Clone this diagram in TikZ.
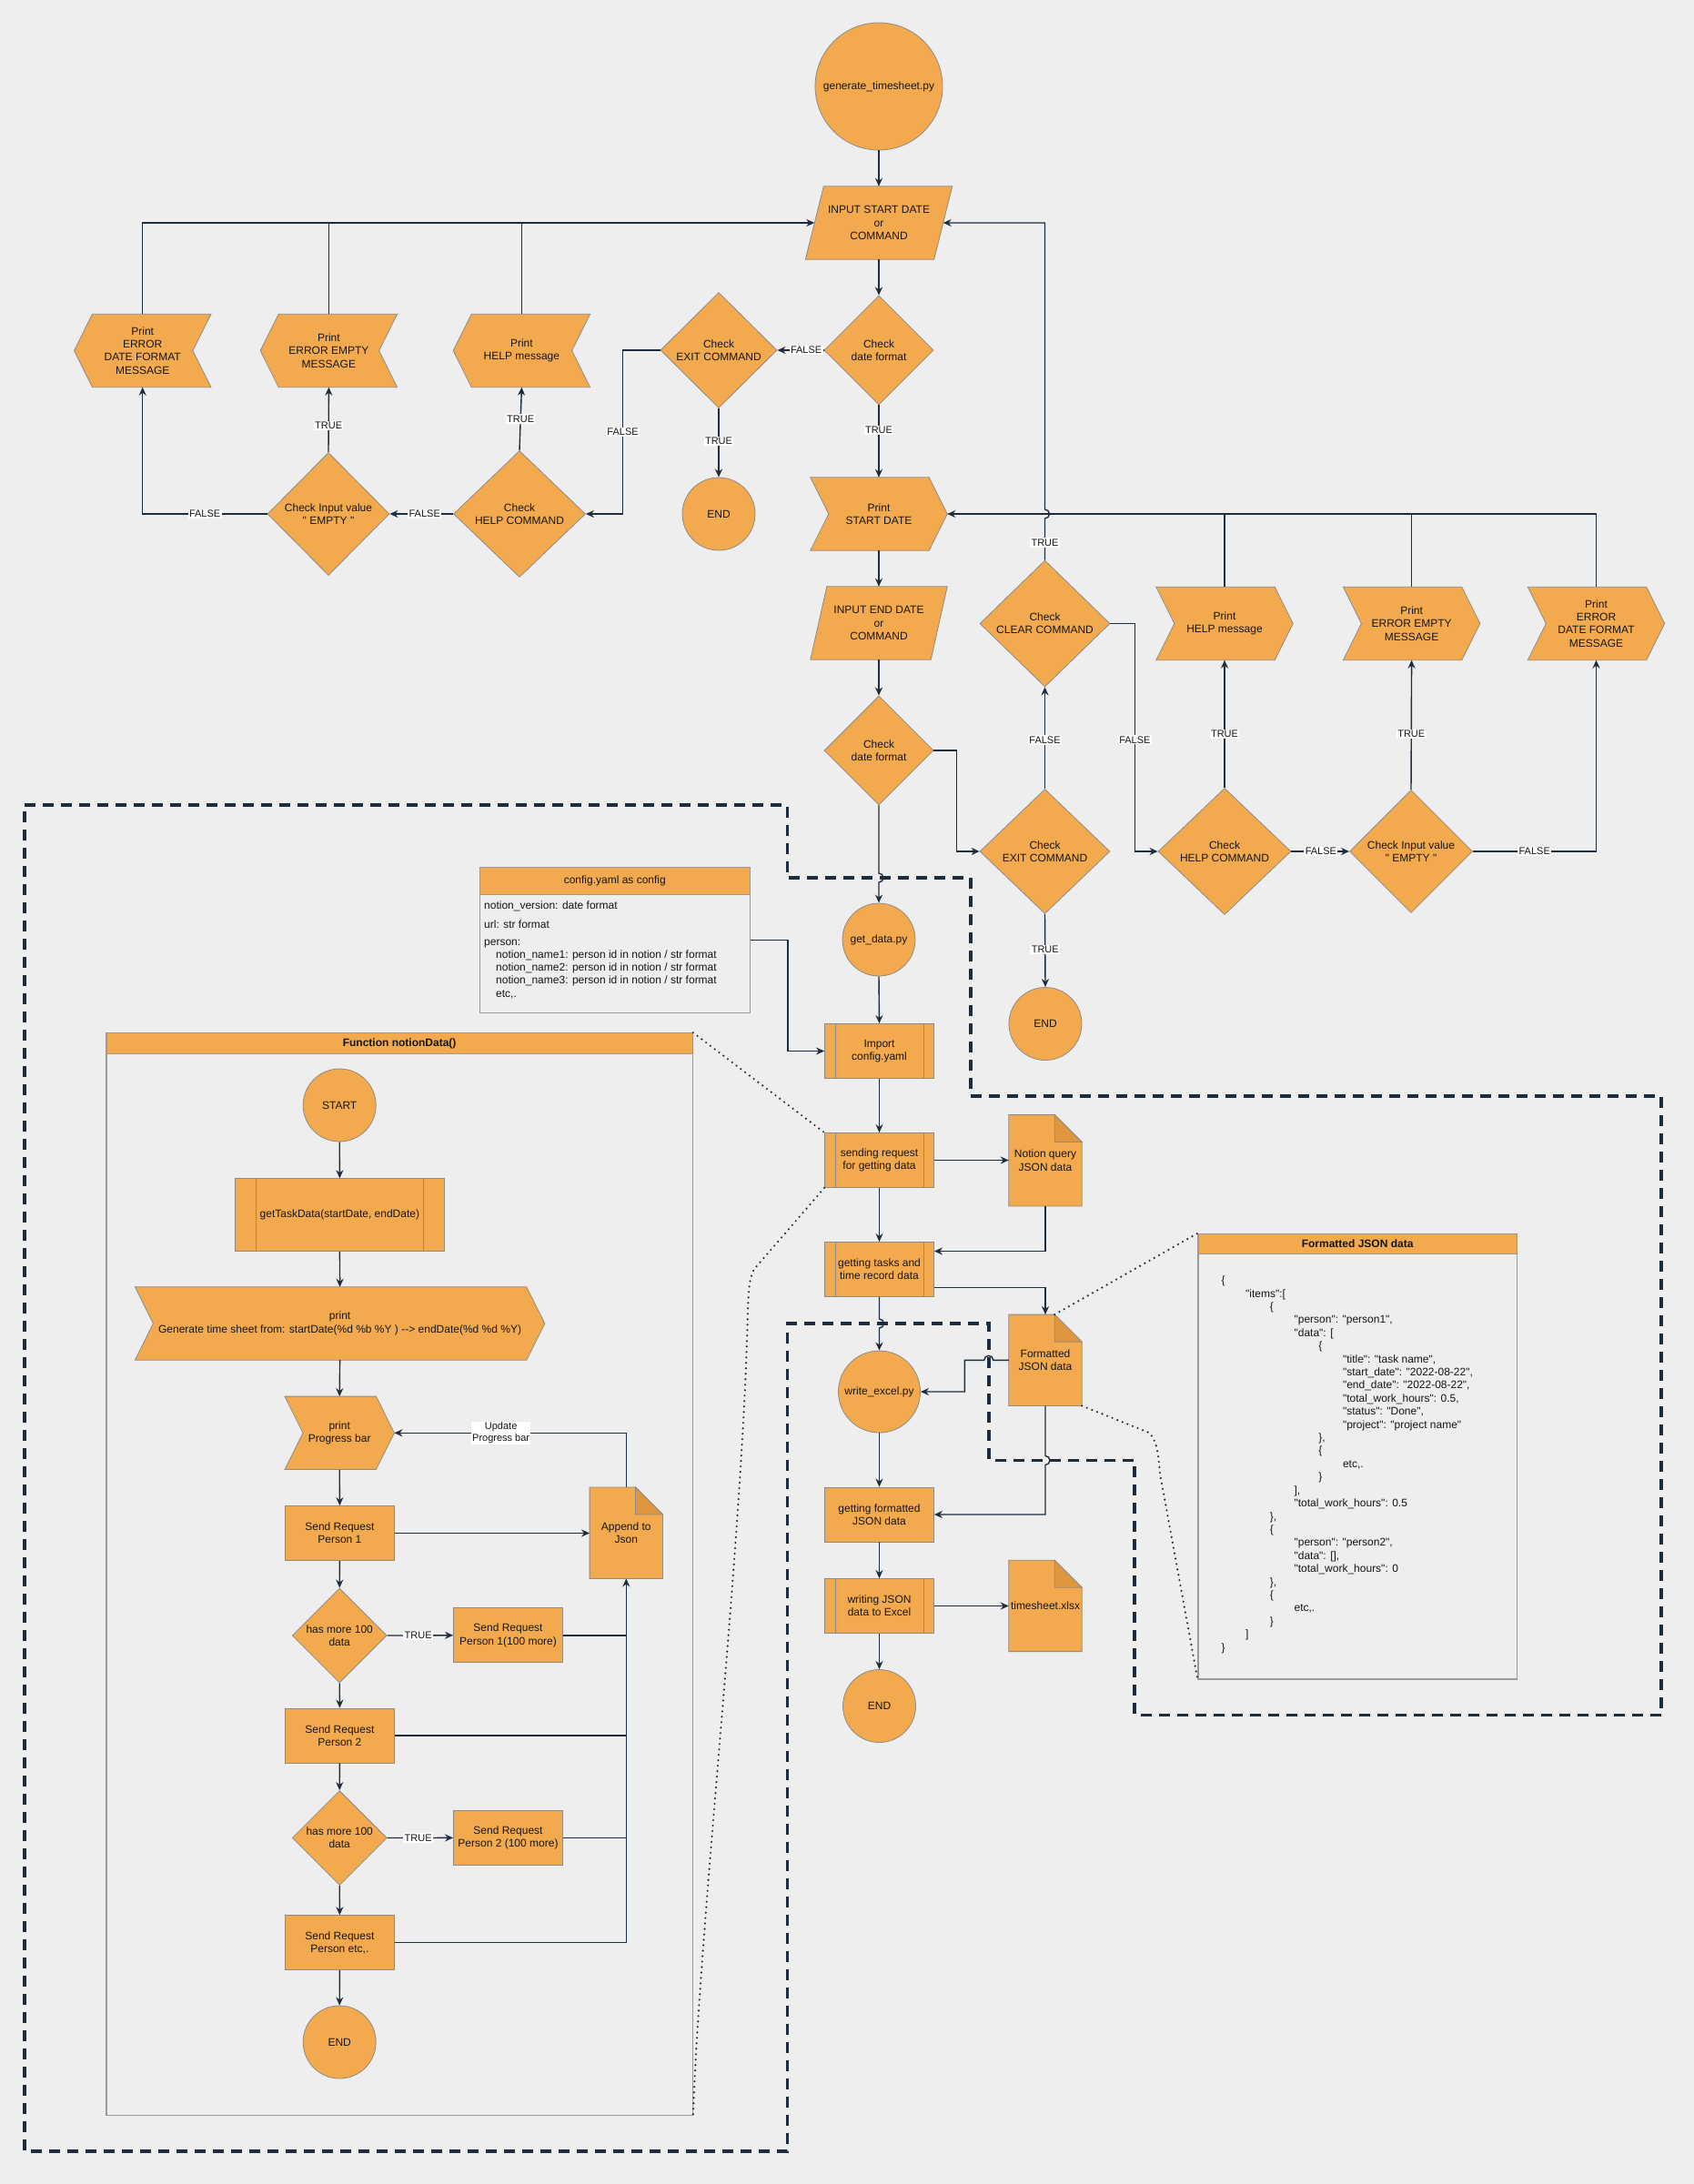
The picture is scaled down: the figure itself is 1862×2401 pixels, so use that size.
\documentclass[tikz,border=0pt]{standalone}
\usepackage{fontspec}
\setmainfont{Liberation Sans}[Ligatures=TeXOff]
\usetikzlibrary{shapes.geometric,calc,arrows.meta}

\definecolor{canvasgrey}{HTML}{EEEEEE}
\definecolor{orng}{HTML}{F3AA4F}
\definecolor{foldc}{HTML}{E0963F}
\definecolor{rim}{HTML}{8E8A84}
\definecolor{navy}{HTML}{1E2D3D}
\definecolor{ink}{HTML}{161616}
\definecolor{panelrim}{HTML}{9A9A9A}

\pgfdeclarelayer{canvas}
\pgfdeclarelayer{under}
\pgfsetlayers{canvas,under,main}

\tikzset{
  txt/.style={font=\fontsize{12}{14.3}\selectfont, text=ink, align=center, inner sep=0pt},
  holder/.style 2 args={txt, rectangle, minimum width=#1, minimum height=#2},
  term/.style={txt, circle, fill=orng, draw=rim, line width=0.8pt, minimum size=#1},
  decide/.style 2 args={txt, diamond, fill=orng, draw=rim, line width=0.8pt,
    minimum width=#1, minimum height=#2, inner sep=1pt},
  boxed/.style 2 args={txt, rectangle, fill=orng, draw=rim, line width=0.8pt,
    minimum width=#1, minimum height=#2},
  shapebody/.style={fill=orng, draw=rim, line width=0.8pt},
  flow/.style={draw=navy, line width=1.4pt, -{Stealth[length=9pt,width=8pt]}},
  wire/.style={draw=navy, line width=1.4pt},
  lbl/.style={font=\fontsize{11}{12.5}\selectfont, text=ink, fill=white, inner sep=1.3pt, align=center},
  zone/.style={draw=navy, line width=3.6pt, dash pattern=on 12pt off 8pt},
  dotline/.style={draw=navy, line width=2.4pt, line cap=round, dash pattern=on 0pt off 6pt},
  panelbox/.style={draw=panelrim, line width=1.1pt, rectangle, inner sep=0pt},
  panelhead/.style={txt, fill=orng, draw=panelrim, line width=1.1pt},
  code/.style={txt, anchor=west, align=left, text height=9pt, text depth=3pt},
}

% right-pointing chevron behind a node
\newcommand\chevronR[2][20]{%
  \begin{pgfonlayer}{under}
  \path[shapebody] (#2.north west) -- ($(#2.north east)+(-#1,0)$) -- (#2.east)
    -- ($(#2.south east)+(-#1,0)$) -- (#2.south west) -- ($(#2.west)+(#1,0)$) -- cycle;
  \end{pgfonlayer}}
% left-pointing chevron behind a node
\newcommand\chevronL[2][20]{%
  \begin{pgfonlayer}{under}
  \path[shapebody] (#2.west) -- ($(#2.north west)+(#1,0)$) -- (#2.north east)
    -- ($(#2.east)+(-#1,0)$) -- (#2.south east) -- ($(#2.south west)+(#1,0)$) -- cycle;
  \end{pgfonlayer}}
% input/output parallelogram behind a node
\newcommand\paraback[2][20]{%
  \begin{pgfonlayer}{under}
  \path[shapebody] (#2.south west) -- ($(#2.north west)+(#1,0)$) -- (#2.north east)
    -- ($(#2.south east)+(-#1,0)$) -- cycle;
  \end{pgfonlayer}}
% document with a folded corner behind a node
\newcommand\docshape[2][30]{%
  \begin{pgfonlayer}{under}
  \path[shapebody] (#2.north west) -- ($(#2.north east)+(-#1,0)$) -- ($(#2.north east)+(0,#1)$)
    -- (#2.south east) -- (#2.south west) -- cycle;
  \path[fill=foldc, draw=rim, line width=0.8pt] ($(#2.north east)+(-#1,0)$)
    -- ($(#2.north east)+(-#1,#1)$) -- ($(#2.north east)+(0,#1)$) -- cycle;
  \end{pgfonlayer}}
% side bars of a predefined process
\newcommand\procbars[2][12]{%
  \draw[rim, line width=0.8pt] ($(#2.north west)+(#1,0)$) -- ($(#2.south west)+(#1,0)$)
    ($(#2.north east)+(-#1,0)$) -- ($(#2.south east)+(-#1,0)$);}
% one line of the JSON sample
\newcommand\jline[3]{\node[code] (jl#2) at ({1342.3+26.7*#1},{1408.6+14.41*#2}) {#3};}

\begin{document}
\begin{tikzpicture}[x=1pt,y=-1pt]
\begin{pgfonlayer}{canvas}
  \fill[canvasgrey] (0,0) rectangle (1862,2401);
\end{pgfonlayer}
\useasboundingbox (0,0) rectangle (1862,2401);

% ---------------- outline of the data-fetching stage ----------------
\coordinate (z1) at (27,885);
\coordinate (z2) at (865.5,885);
\coordinate (z3) at (865.5,965);
\coordinate (z4) at (1066.7,965);
\coordinate (z5) at (1066.7,1205);
\coordinate (z6) at (1826,1205);
\coordinate (z7) at (1826,1885.5);
\coordinate (z8) at (1246.7,1885.5);
\coordinate (z9) at (1246.7,1605.5);
\coordinate (z10) at (1086.7,1605.5);
\coordinate (z11) at (1086.7,1455);
\coordinate (z12) at (865.5,1455);
\coordinate (z13) at (865.5,2365);
\coordinate (z14) at (27,2365);
\begin{pgfonlayer}{canvas}
  \draw[zone] (z1) -- (z2) -- (z3) -- (z4) -- (z5) -- (z6) -- (z7) -- (z8) -- (z9)
    -- (z10) -- (z11) -- (z12) -- (z13) -- (z14) -- cycle;
\end{pgfonlayer}

% ---------------- main column ----------------
\node[term=140] (gen) at (966,95) {generate\_timesheet.py};
\node[holder={161}{80}] (instart) at (966,245) {INPUT START DATE\\or\\COMMAND};
\paraback{instart}
\node[decide={120}{120}] (df1) at (966,385) {Check\\date format};
\node[holder={150}{80}] (psd) at (966,565) {Print\\START DATE};
\chevronR{psd}
\node[holder={150}{80}] (inend) at (966,685) {INPUT END DATE\\or\\COMMAND};
\paraback[18]{inend}
\node[decide={120}{120}] (df2) at (966,825) {Check\\date format};
\node[term=80] (getd) at (966,1033) {get\_data.py};
\node[boxed={120}{60}] (imp) at (966.5,1155.5) {Import\\config.yaml};
\procbars{imp}
\node[boxed={120}{60}] (sreq) at (966.5,1275.5) {sending request\\for getting data};
\procbars{sreq}
\node[boxed={120}{60}] (gtask) at (966.5,1395.5) {getting tasks and\\time record data};
\procbars{gtask}
\node[term=90] (wexc) at (966.5,1530) {write\_excel.py};
\node[boxed={120}{60}] (gfmt) at (966.5,1665) {getting formatted\\JSON data};
\node[boxed={120}{60}] (wjson) at (966.5,1765.5) {writing JSON\\data to Excel};
\procbars{wjson}
\node[term=80] (end3) at (966.5,1875.5) {END};
\node[holder={80}{100}] (nq) at (1149,1275.7) {Notion query\\JSON data};
\docshape{nq}
\node[holder={80}{100}] (fj) at (1149,1495.3) {Formatted\\JSON data};
\docshape{fj}
\node[holder={80}{100}] (xl) at (1149,1765.4) {timesheet.xlsx};
\docshape{xl}

% ---------------- start-date command branch ----------------
\node[decide={128}{127}] (ex1) at (790,385) {Check\\EXIT COMMAND};
\node[term=80] (end1) at (790,565) {END};
\node[decide={145}{139}] (hc1) at (571,565) {Check\\HELP COMMAND};
\node[decide={134}{135}] (iv1) at (361,565) {Check Input value\\" EMPTY "};
\node[holder={150}{80}] (ph1) at (573.4,385.5) {Print\\HELP message};
\chevronL{ph1}
\node[holder={150}{80}] (pe1) at (361.4,385.5) {Print\\ERROR EMPTY\\MESSAGE};
\chevronL{pe1}
\node[holder={150}{80}] (pf1) at (156.7,385.5) {Print\\ERROR\\DATE FORMAT\\MESSAGE};
\chevronL{pf1}

% ---------------- end-date command branch ----------------
\node[decide={143}{139}] (cl) at (1148.5,685.5) {Check\\CLEAR COMMAND};
\node[decide={143}{137}] (ex2) at (1148.5,936) {Check\\EXIT COMMAND};
\node[term=80] (end2) at (1149,1125.5) {END};
\node[decide={146}{139}] (hc2) at (1346,936) {Check\\HELP COMMAND};
\node[decide={135}{135}] (iv2) at (1551,936) {Check Input value\\" EMPTY "};
\node[holder={150}{80}] (ph2) at (1346,685.5) {Print\\HELP message};
\chevronR{ph2}
\node[holder={150}{80}] (pe2) at (1551.6,685.5) {Print\\ERROR EMPTY\\MESSAGE};
\chevronR{pe2}
\node[holder={150}{80}] (pf2) at (1754.5,685.5) {Print\\ERROR\\DATE FORMAT\\MESSAGE};
\chevronR{pf2}

% ---------------- side panels ----------------
\node[panelbox, minimum width=297.5, minimum height=160, anchor=north west] (cfg) at (526.5,952.7) {};
\node[panelhead, minimum width=297.5, minimum height=30, anchor=north west] (cfghead) at (526.5,952.7) {config.yaml as config};
\node[code] (c1) at (532,996.7) {notion\_version: date format};
\node[code] (c2) at (532,1017.3) {url: str format};
\node[code] (c3) at (532,1036.7) {person:};
\node[code] (c4) at (545,1050.7) {notion\_name1: person id in notion / str format};
\node[code] (c5) at (545,1064.7) {notion\_name2: person id in notion / str format};
\node[code] (c6) at (545,1078.7) {notion\_name3: person id in notion / str format};
\node[code] (c7) at (545,1093.3) {etc,.};

\node[panelbox, minimum width=350.4, minimum height=489.7, anchor=north west] (jsn) at (1316.4,1355.7) {};
\node[panelhead, minimum width=350.4, minimum height=22.5, anchor=north west] (jsnhead) at (1316.4,1355.7) {\bfseries Formatted JSON data};
\jline{0}{0}{\{}
\jline{1}{1}{"items":[}
\jline{2}{2}{\{}
\jline{3}{3}{"person": "person1",}
\jline{3}{4}{"data": [}
\jline{4}{5}{\{}
\jline{5}{6}{"title": "task name",}
\jline{5}{7}{"start\_date": "2022-08-22",}
\jline{5}{8}{"end\_date": "2022-08-22",}
\jline{5}{9}{"total\_work\_hours": 0.5,}
\jline{5}{10}{"status": "Done",}
\jline{5}{11}{"project": "project name"}
\jline{4}{12}{\},}
\jline{4}{13}{\{}
\jline{5}{14}{etc,.}
\jline{4}{15}{\}}
\jline{3}{16}{],}
\jline{3}{17}{"total\_work\_hours": 0.5}
\jline{2}{18}{\},}
\jline{2}{19}{\{}
\jline{3}{20}{"person": "person2",}
\jline{3}{21}{"data": [],}
\jline{3}{22}{"total\_work\_hours": 0}
\jline{2}{23}{\},}
\jline{2}{24}{\{}
\jline{3}{25}{etc,.}
\jline{2}{26}{\}}
\jline{1}{27}{]}
\jline{0}{28}{\}}

% ---------------- function notionData() ----------------
\node[panelbox, minimum width=644.3, minimum height=1189.8, anchor=north west] (fn) at (116.4,1135.2) {};
\node[panelhead, minimum width=644.3, minimum height=23, anchor=north west] (fnhead) at (116.4,1135.2) {\bfseries Function notionData()};
\node[term=80] (fstart) at (373.2,1215) {START};
\node[boxed={230}{80}] (gtd) at (373.4,1335.7) {getTaskData(startDate, endDate)};
\procbars[23]{gtd}
\node[holder={450}{80}] (pgen) at (373.6,1455) {print\\Generate time sheet from: startDate(\%d \%b \%Y ) -{}-> endDate(\%d \%d \%Y)};
\chevronR{pgen}
\node[holder={120}{80}] (pprog) at (373.2,1575.3) {print\\Progress bar};
\chevronR{pprog}
\node[boxed={120}{60}] (sp1) at (373.4,1685.5) {Send Request\\Person 1};
\node[decide={104}{104}] (hm1) at (373.2,1798) {has more 100\\data};
\node[boxed={120}{60}] (sp1m) at (558.5,1797.8) {Send Request\\Person 1(100 more)};
\node[boxed={120}{60}] (sp2) at (373.4,1908) {Send Request\\Person 2};
\node[decide={104}{104}] (hm2) at (373.2,2020.5) {has more 100\\data};
\node[boxed={120}{60}] (sp2m) at (558.5,2020.4) {Send Request\\Person 2 (100 more)};
\node[boxed={120}{60}] (spe) at (373.4,2135.7) {Send Request\\Person etc,.};
\node[term=80] (fend) at (373.2,2245) {END};
\node[holder={80}{100}] (app) at (688.3,1685.2) {Append to\\Json};
\docshape{app}

% ---------------- connectors: main column ----------------
\draw[flow] (gen.south) -- (instart.north);
\draw[flow] (instart.south) -- (df1.north);
\draw[flow] (df1.south) -- node[lbl,pos=0.35]{TRUE} (psd.north);
\draw[flow] (psd.south) -- (inend.north);
\draw[flow] (inend.south) -- (df2.north);
\draw[flow] (df2.south) -- ($(df2.south |- z3)+(0,-5)$) arc[start angle=90,end angle=-90,radius=5pt] -- (getd.north);
\draw[flow] (getd.south) -- (imp.north);
\draw[flow] (cfg.east) -- ++(41,0) |- (imp.west);
\draw[flow] (imp.south) -- (sreq.north);
\draw[flow] (sreq.east) -- (sreq.east -| nq.west);
\draw[flow] (sreq.south) -- (gtask.north);
\draw[flow] (nq.south) |- ($(gtask.east)+(0,-20)$);
\draw[flow] ($(gtask.east)+(0,20)$) -| (fj.north);
\draw[flow] (gtask.south) -- ($(gtask.south |- z11)+(0,-5)$) arc[start angle=90,end angle=-90,radius=5pt] -- (wexc.north);
\draw[flow] (fj.west) -- ($(z11 |- fj.west)+(5,0)$) arc[start angle=0,end angle=180,radius=5pt] -- ++(-21.4,0) |- (wexc.east);
\draw[flow] (fj.south) -- ($(fj.south |- z9)+(0,-5)$) arc[start angle=90,end angle=-90,radius=5pt] |- (gfmt.east);
\draw[flow] (wexc.south) -- (gfmt.north);
\draw[flow] (gfmt.south) -- (wjson.north);
\draw[flow] (wjson.east) -- (wjson.east -| xl.west);
\draw[flow] (wjson.south) -- (end3.north);

% ---------------- connectors: start-date branch ----------------
\draw[flow] (df1.west) -- node[lbl,pos=0.38]{FALSE} (ex1.east);
\draw[flow] (ex1.south) -- node[lbl,pos=0.48]{TRUE} (end1.north);
\draw[flow] (ex1.west) -- ++(-41,0) -- node[lbl,midway]{FALSE} ++(0,180) -- (hc1.east);
\draw[flow] (hc1.north) -- node[lbl,pos=0.5]{TRUE} (ph1.south);
\draw[flow] (hc1.west) -- node[lbl,pos=0.45]{FALSE} (iv1.east);
\draw[flow] (iv1.north) -- node[lbl,pos=0.41]{TRUE} (pe1.south);
\draw[flow] (iv1.west) -| node[lbl,pos=0.25]{FALSE} (pf1.south);
\draw[flow] (pf1.north) |- ($(instart.west)+(10,0)$);
\draw[wire] (pe1.north) -- (pe1.north |- instart.west);
\draw[wire] (ph1.north) -- (ph1.north |- instart.west);

% ---------------- connectors: end-date branch ----------------
\draw[flow] (df2.east) -- ++(25,0) |- (ex2.west);
\draw[flow] (ex2.north) -- node[lbl,pos=0.48]{FALSE} (cl.south);
\draw[flow] (ex2.south) -- node[lbl,pos=0.49]{TRUE} (end2.north);
\draw[flow] (cl.north) -- node[lbl,pos=0.42]{TRUE} ($(cl.north |- psd.east)+(0,5)$)
  arc[start angle=-90,end angle=90,radius=5pt] -- (cl.north |- instart.east) -- ($(instart.east)+(-10,0)$);
\draw[flow] (cl.east) -- ++(27,0) -- node[lbl,pos=0.51]{FALSE} ++(0,250.5) -- (hc2.west);
\draw[flow] (hc2.north) -- node[lbl,pos=0.42]{TRUE} (ph2.south);
\draw[flow] (hc2.east) -- node[lbl,pos=0.51]{FALSE} (iv2.west);
\draw[flow] (iv2.north) -- node[lbl,pos=0.43]{TRUE} (pe2.south);
\draw[flow] (iv2.east) -| node[lbl,pos=0.25]{FALSE} (pf2.south);
\draw[flow] (pf2.north) |- (psd.east);
\draw[wire] (pe2.north) -- (pe2.north |- psd.east);
\draw[wire] (ph2.north) -- (ph2.north |- psd.east);

% ---------------- connectors: function notionData() ----------------
\draw[flow] (fstart.south) -- (gtd.north);
\draw[flow] (gtd.south) -- (pgen.north);
\draw[flow] (pgen.south) -- (pprog.north);
\draw[flow] (pprog.south) -- (sp1.north);
\draw[flow] (sp1.south) -- (hm1.north);
\draw[flow] (hm1.south) -- (sp2.north);
\draw[flow] (sp2.south) -- (hm2.north);
\draw[flow] (hm2.south) -- (spe.north);
\draw[flow] (spe.south) -- (fend.north);
\draw[flow] (hm1.east) -- node[lbl,pos=0.47]{TRUE} (sp1m.west);
\draw[flow] (hm2.east) -- node[lbl,pos=0.47]{TRUE} (sp2m.west);
\draw[flow] (sp1.east) -- (sp1.east -| app.west);
\draw[wire] (sp1m.east) -- (sp1m.east -| app.south);
\draw[wire] (sp2.east) -- (sp2.east -| app.south);
\draw[wire] (sp2m.east) -- (sp2m.east -| app.south);
\draw[flow] (spe.east) -| (app.south);
\draw[flow] (app.north) |- node[lbl,pos=0.77]{Update\\Progress bar} (pprog.east);

% ---------------- dotted call-outs ----------------
\draw[dotline] (fnhead.north east) -- (sreq.north west);
\draw[dotline] (sreq.south west) -- (830,1394) .. controls (824,1402) and (823,1415) .. (822,1440)
  .. controls (816,1700) and (770,2100) .. (fn.south east);
\draw[dotline] ($(fj.north east)+(-30,0)$) -- (jsnhead.north west);
\draw[dotline] (fj.south east) -- (1263,1575) .. controls (1271,1583) and (1273,1595) .. (1275,1620)
  -- (jsn.south west);
\end{tikzpicture}
\end{document}
